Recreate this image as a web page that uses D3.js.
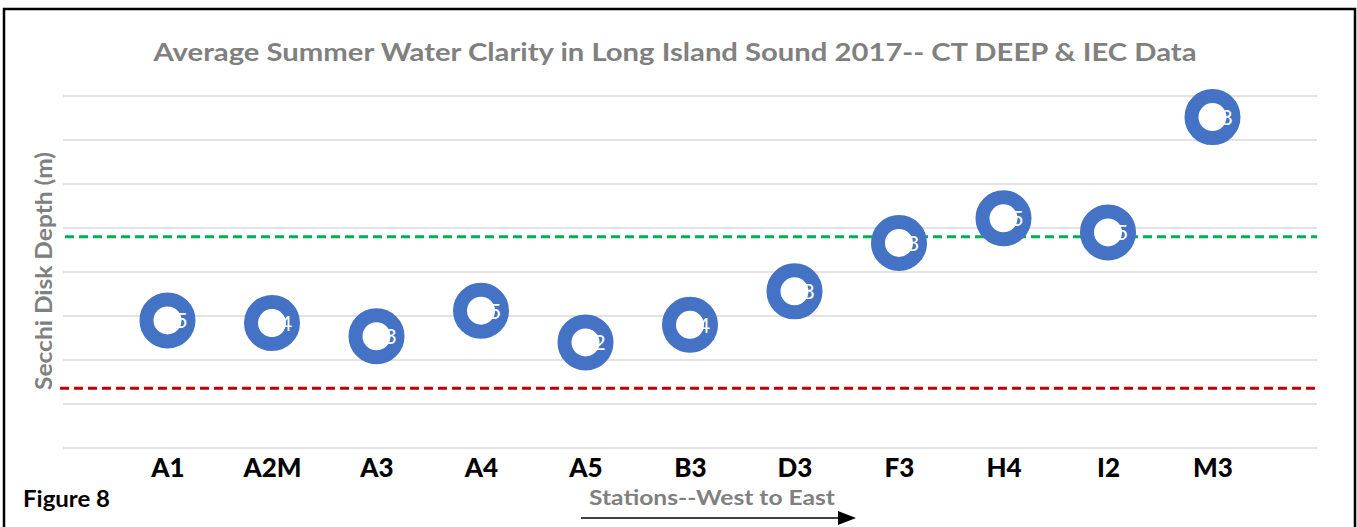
<!DOCTYPE html>
<html>
<head>
<meta charset="utf-8">
<script src="https://cdn.jsdelivr.net/npm/d3@7"></script>
<style>
  body { margin: 0; background: #fff; }
  svg { display: block; font-family: Lato, "Open Sans", sans-serif; }
</style>
</head>
<body>
<div id="chart"></div>
<script>
// stations west to east
var stations = ['A1', 'A2M', 'A3', 'A4', 'A5', 'B3', 'D3', 'F3', 'H4', 'I2', 'M3'];
// average summer secchi depth (m)
var secchi = [1.45, 1.42, 1.27, 1.56, 1.2, 1.4, 1.78, 2.33, 2.61, 2.45, 3.76];
var secchiLabels = ['1.5', '1.4', '1.3', '1.5', '1.2', '1.4', '1.8', '2.3', '2.5', '2.5', '3.8'];
var yTicks = [0, 0.5, 1, 1.5, 2, 2.5, 3, 3.5, 4];
// reference lines
var goodLevel = 2.4;
var poorLevel = 0.68;

var width = 1357, height = 527;
var svg = d3.select('#chart').append('svg').attr('width', width).attr('height', height);

// frame
svg.append('path')
    .attr('d', 'M4,527 V9 H1355 V527')
    .attr('fill', 'none').attr('stroke', '#000').attr('stroke-width', 2.5);

var x = d3.scalePoint().domain(stations).range([63, 1317]).padding(1);
var y = d3.scaleLinear().domain([0, 4]).range([448, 96]);

// gridlines
svg.append('g').selectAll('line').data(yTicks).enter().append('line')
    .attr('x1', 63).attr('x2', 1317)
    .attr('y1', function(d) { return y(d); }).attr('y2', function(d) { return y(d); })
    .attr('stroke', '#e3e3e3').attr('stroke-width', 2);

// reference lines
svg.append('line')
    .attr('x1', 65).attr('x2', 1317).attr('y1', y(goodLevel)).attr('y2', y(goodLevel))
    .attr('stroke', '#00b050').attr('stroke-width', 3).attr('stroke-dasharray', '9,5');
svg.append('line')
    .attr('x1', 60).attr('x2', 1317).attr('y1', y(poorLevel)).attr('y2', y(poorLevel))
    .attr('stroke', '#c00000').attr('stroke-width', 3).attr('stroke-dasharray', '9,5');

// category axis
var xAxis = svg.append('g').attr('transform', 'translate(0,448)')
    .call(d3.axisBottom(x).tickSize(0).tickPadding(11));
xAxis.select('.domain').remove();
xAxis.selectAll('text')
    .attr('font-family', 'Lato, sans-serif')
    .attr('font-size', 26).attr('font-weight', 900).attr('fill', '#000');

// markers
var pts = stations.map(function(s, i) { return { s: s, v: secchi[i], l: secchiLabels[i] }; });
var g = svg.append('g').selectAll('g').data(pts).enter().append('g')
    .attr('transform', function(d) { return 'translate(' + x(d.s) + ',' + y(d.v) + ')'; });
g.append('circle').attr('r', 21)
    .attr('fill', '#fff').attr('stroke', '#4472c4').attr('stroke-width', 14);
g.append('text')
    .attr('x', 5).attr('y', 8)
    .attr('text-anchor', 'middle')
    .attr('font-size', 22).attr('fill', '#fff')
    .text(function(d) { return d.l; });

// titles
svg.append('text')
    .attr('x', 675).attr('y', 61).attr('text-anchor', 'middle')
    .attr('font-size', 25).attr('font-weight', 'bold').attr('fill', '#808080')
    .attr('textLength', 1043).attr('lengthAdjust', 'spacingAndGlyphs')
    .text('Average Summer Water Clarity in Long Island Sound 2017-- CT DEEP & IEC Data');

svg.append('text')
    .attr('transform', 'translate(52,271) rotate(-90)')
    .attr('text-anchor', 'middle')
    .attr('font-size', 22).attr('font-weight', 'bold').attr('fill', '#808080')
    .attr('textLength', 238).attr('lengthAdjust', 'spacingAndGlyphs')
    .text('Secchi Disk Depth (m)');

svg.append('text')
    .attr('x', 712).attr('y', 505).attr('text-anchor', 'middle')
    .attr('font-size', 21).attr('font-weight', 'bold').attr('fill', '#808080')
    .attr('textLength', 246).attr('lengthAdjust', 'spacingAndGlyphs')
    .text('Stations--West to East');

svg.append('text')
    .attr('x', 23).attr('y', 507)
    .attr('font-size', 23).attr('font-weight', 'bold').attr('fill', '#000')
    .attr('textLength', 87).attr('lengthAdjust', 'spacingAndGlyphs')
    .text('Figure 8');

// arrow under the axis title
svg.append('line')
    .attr('x1', 581).attr('x2', 838).attr('y1', 518).attr('y2', 518)
    .attr('stroke', '#000').attr('stroke-width', 1.5);
svg.append('path')
    .attr('d', 'M838,511 L856,518 L838,525 Z').attr('fill', '#000');
</script>
</body>
</html>
